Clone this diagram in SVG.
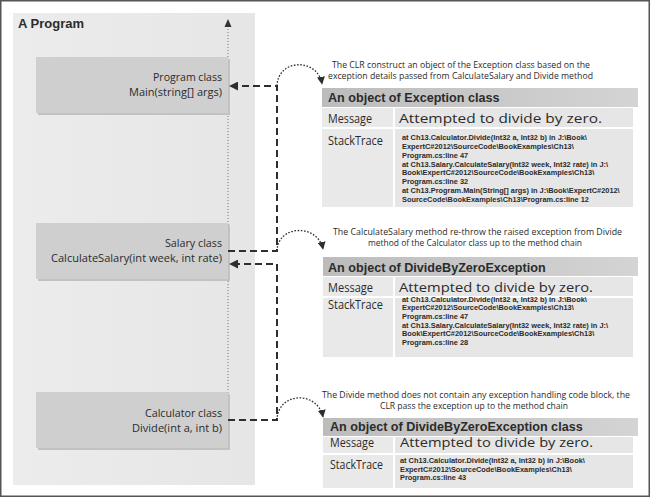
<svg xmlns="http://www.w3.org/2000/svg" width="650" height="497" viewBox="0 0 650 497">
<defs>
<linearGradient id="hdr" x1="0" y1="0" x2="1" y2="0"><stop offset="0" stop-color="#bcbcbc"/><stop offset="1" stop-color="#d4d4d4"/></linearGradient>
<linearGradient id="pnl" x1="0" y1="0" x2="1" y2="0"><stop offset="0" stop-color="#ececec"/><stop offset="1" stop-color="#e6e6e6"/></linearGradient>
<marker id="ah" viewBox="0 0 10 10" refX="9" refY="5" markerWidth="9" markerHeight="9" markerUnits="userSpaceOnUse" orient="auto"><path d="M0,0 L10,5 L0,10 z" fill="#2e2e2e"/></marker>
<marker id="ah2" viewBox="0 0 10 10" refX="9" refY="5" markerWidth="8" markerHeight="8" markerUnits="userSpaceOnUse" orient="auto"><path d="M0,0 L10,5 L0,10 z" fill="#2e2e2e"/></marker>
</defs>
<style>
.cal{font-family:"Open Sans","Liberation Sans",sans-serif;fill:#2b2b2b}
.lbl{font-size:11.5px}
.cap{font-size:8.7px}
.cell{font-size:12.5px}
.hd{font-family:"Liberation Sans",Arial,sans-serif;font-weight:bold;font-size:12.6px;fill:#2b2b2b}
.st{font-family:"Liberation Sans",Arial,sans-serif;font-weight:bold;font-size:7.4px;fill:#2b2b2b}
.box{fill:#cfcfcf}
.shadow{fill:#c2c2c2}
.hbar{fill:url(#hdr)}
.c1{fill:#e9e9e9}
.c2{fill:#e6e6e6}
.dash{fill:none;stroke:#2e2e2e;stroke-width:2;stroke-dasharray:7 4}
.dot{fill:none;stroke:#2e2e2e;stroke-width:1.3;stroke-dasharray:1.6 1.6}
</style>
<rect x="0.75" y="0.75" width="648.5" height="495.5" fill="#ffffff" stroke="#555" stroke-width="1.5"/>
<g id="program-panel">
<rect x="13" y="13" width="242" height="472" fill="url(#pnl)"/>
<text x="18" y="28" font-family="Liberation Sans,Arial,sans-serif" font-weight="bold" font-size="13" fill="#2b2b2b">A Program</text>
<line x1="228" y1="26" x2="228" y2="450" stroke="#777" stroke-width="1" stroke-dasharray="1 2"/>
<path d="M228,19 L224.5,27 L231.5,27 z" fill="#333"/>
</g>
<g id="program-class">
<rect class="shadow" x="38" y="59" width="192" height="56"/>
<rect class="box" x="36" y="57" width="192" height="56"/>
<text class="cal lbl" x="222" y="81" text-anchor="end" textLength="69" lengthAdjust="spacingAndGlyphs">Program class</text>
<text class="cal lbl" x="222" y="96" text-anchor="end" textLength="93" lengthAdjust="spacingAndGlyphs">Main(string[] args)</text>
</g>
<g id="salary-class">
<rect class="shadow" x="38" y="225" width="192" height="56"/>
<rect class="box" x="36" y="223" width="192" height="56"/>
<text class="cal lbl" x="222" y="247" text-anchor="end" textLength="57" lengthAdjust="spacingAndGlyphs">Salary class</text>
<text class="cal lbl" x="222" y="262" text-anchor="end" textLength="171" lengthAdjust="spacingAndGlyphs">CalculateSalary(int week, int rate)</text>
</g>
<g id="calculator-class">
<rect class="shadow" x="38" y="394" width="192" height="56"/>
<rect class="box" x="36" y="392" width="192" height="56"/>
<text class="cal lbl" x="222" y="417" text-anchor="end" textLength="77" lengthAdjust="spacingAndGlyphs">Calculator class</text>
<text class="cal lbl" x="222" y="432" text-anchor="end" textLength="90" lengthAdjust="spacingAndGlyphs">Divide(int a, int b)</text>
</g>
<g id="exception-object">
<text class="cal cap" x="461" y="67.5" text-anchor="middle" textLength="258" lengthAdjust="spacingAndGlyphs">The CLR construct an object of the Exception class based on the</text>
<text class="cal cap" x="460.5" y="78.5" text-anchor="middle" textLength="265" lengthAdjust="spacingAndGlyphs">exception details passed from CalculateSalary and Divide method</text>
<rect class="hbar" x="322" y="88" width="316" height="19"/>
<text class="hd" x="328" y="102">An object of Exception class</text>
<rect class="c1" x="322" y="108" width="71" height="19"/>
<rect class="c2" x="395" y="108" width="238" height="19"/>
<text class="cal cell" x="328" y="123" textLength="44" lengthAdjust="spacingAndGlyphs">Message</text>
<text class="cal cell" x="399" y="123" textLength="203" lengthAdjust="spacingAndGlyphs">Attempted to divide by zero.</text>
<rect class="c1" x="322" y="129" width="71" height="78"/>
<rect class="c2" x="395" y="129" width="238" height="78"/>
<text class="cal cell" x="328" y="145" textLength="55" lengthAdjust="spacingAndGlyphs">StackTrace</text>
<text class="st" x="402" y="140">at Ch13.Calculator.Divide(Int32 a, Int32 b) in J:\Book\</text>
<text class="st" x="402" y="148.9">ExpertC#2012\SourceCode\BookExamples\Ch13\</text>
<text class="st" x="402" y="157.7">Program.cs:line 47</text>
<text class="st" x="402" y="166.6">at Ch13.Salary.CalculateSalary(Int32 week, Int32 rate) in J:\</text>
<text class="st" x="402" y="175.4">Book\ExpertC#2012\SourceCode\BookExamples\Ch13\</text>
<text class="st" x="402" y="184.3">Program.cs:line 32</text>
<text class="st" x="402" y="193.1">at Ch13.Program.Main(String[] args) in J:\Book\ExpertC#2012\</text>
<text class="st" x="402" y="202">SourceCode\BookExamples\Ch13\Program.cs:line 12</text>
</g>
<g id="dividebyzero-object-salary">
<text class="cal cap" x="477.5" y="234.5" text-anchor="middle" textLength="289" lengthAdjust="spacingAndGlyphs">The CalculateSalary method re-throw the raised exception from Divide</text>
<text class="cal cap" x="475" y="245.5" text-anchor="middle" textLength="214" lengthAdjust="spacingAndGlyphs">method of the Calculator class up to the method chain</text>
<rect class="hbar" x="323" y="257" width="315" height="19"/>
<text class="hd" x="328" y="272">An object of DivideByZeroException</text>
<rect class="c1" x="323" y="277" width="70" height="19"/>
<rect class="c2" x="395" y="277" width="238" height="19"/>
<text class="cal cell" x="328" y="292" textLength="45" lengthAdjust="spacingAndGlyphs">Message</text>
<text class="cal cell" x="399" y="291.5" textLength="194" lengthAdjust="spacingAndGlyphs">Attempted to divide by zero.</text>
<rect class="c1" x="323" y="298" width="70" height="59"/>
<rect class="c2" x="395" y="298" width="238" height="59"/>
<text class="cal cell" x="328" y="309" textLength="55" lengthAdjust="spacingAndGlyphs">StackTrace</text>
<text class="st" x="402" y="301.5">at Ch13.Calculator.Divide(Int32 a, Int32 b) in J:\Book\</text>
<text class="st" x="402" y="310.2">ExpertC#2012\SourceCode\BookExamples\Ch13\</text>
<text class="st" x="402" y="318.9">Program.cs:line 47</text>
<text class="st" x="402" y="327.6">at Ch13.Salary.CalculateSalary(Int32 week, Int32 rate) in J:\</text>
<text class="st" x="402" y="336.3">Book\ExpertC#2012\SourceCode\BookExamples\Ch13\</text>
<text class="st" x="402" y="345">Program.cs:line 28</text>
</g>
<g id="dividebyzero-object-calculator">
<text class="cal cap" x="476" y="398" text-anchor="middle" textLength="308" lengthAdjust="spacingAndGlyphs">The Divide method does not contain any exception handling code block, the</text>
<text class="cal cap" x="474" y="409" text-anchor="middle" textLength="188" lengthAdjust="spacingAndGlyphs">CLR pass the exception up to the method chain</text>
<rect class="hbar" x="323" y="418" width="315" height="18"/>
<text class="hd" x="330" y="431">An object of DivideByZeroException class</text>
<rect class="c1" x="323" y="437" width="70" height="16"/>
<rect class="c2" x="395" y="437" width="238" height="16"/>
<text class="cal cell" x="330" y="446.5" textLength="44" lengthAdjust="spacingAndGlyphs">Message</text>
<text class="cal cell" x="400" y="446.5" textLength="193" lengthAdjust="spacingAndGlyphs">Attempted to divide by zero.</text>
<rect class="c1" x="323" y="455" width="70" height="33"/>
<rect class="c2" x="395" y="455" width="238" height="33"/>
<text class="cal cell" x="330" y="469" textLength="53" lengthAdjust="spacingAndGlyphs">StackTrace</text>
<text class="st" x="400" y="463">at Ch13.Calculator.Divide(Int32 a, Int32 b) in J:\Book\</text>
<text class="st" x="400" y="471.5">ExpertC#2012\SourceCode\BookExamples\Ch13\</text>
<text class="st" x="400" y="480">Program.cs:line 43</text>
</g>
<g id="connectors">
<path class="dash" d="M228,420 H277 V264 H230" marker-end="url(#ah)"/>
<path class="dash" d="M228,251 H277 V86 H230" marker-end="url(#ah)"/>
<path class="dot" d="M277,86 C278,58 318,58 322,84" marker-end="url(#ah2)"/>
<path class="dot" d="M277,251 C278,224 318,224 323,249" marker-end="url(#ah2)"/>
<path class="dot" d="M277,420 C278,391 318,391 323,417" marker-end="url(#ah2)"/>
</g>
</svg>
